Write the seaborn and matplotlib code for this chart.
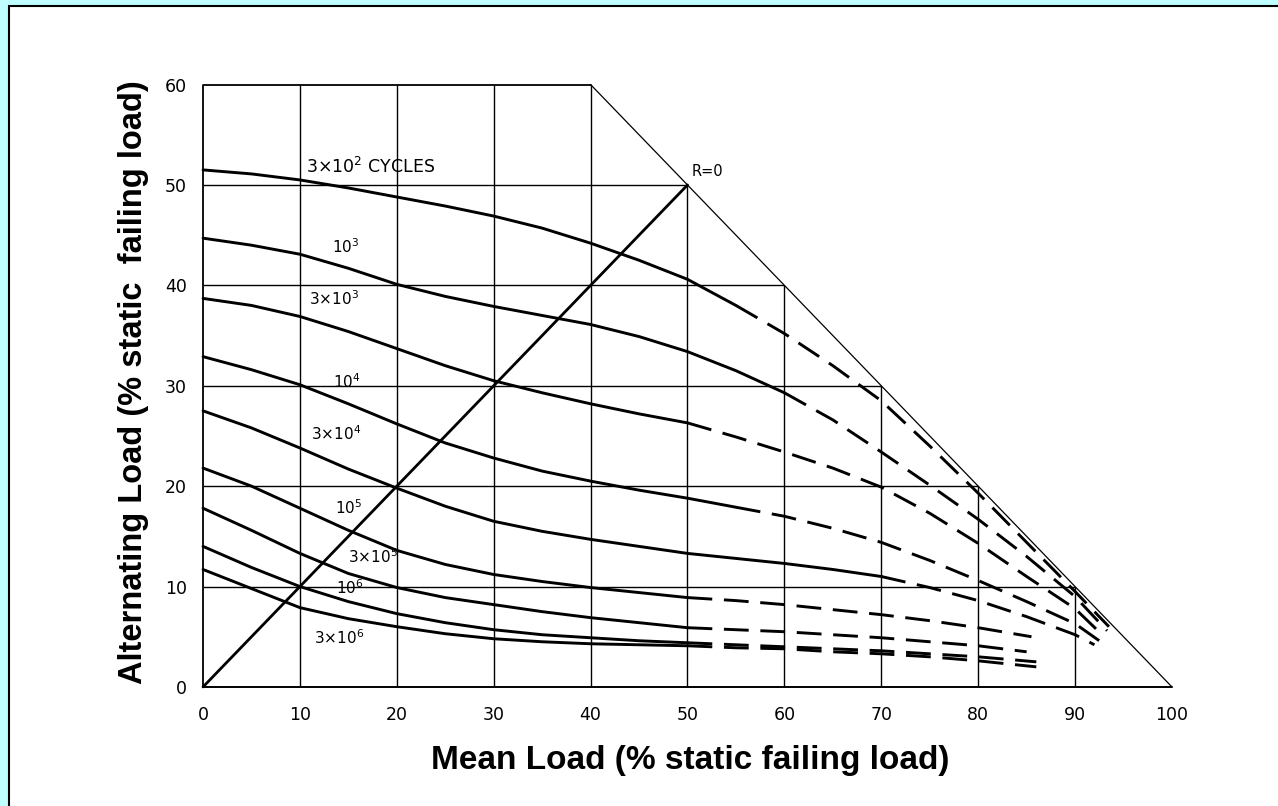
import matplotlib
matplotlib.use("Agg")
import matplotlib.pyplot as plt
import seaborn as sns
import pandas as pd
from matplotlib.patches import Rectangle

# ---------------- data ----------------
mean_ticks = [0, 10, 20, 30, 40, 50, 60, 70, 80, 90, 100]
alt_ticks = [0, 10, 20, 30, 40, 50, 60]

mean_upper = [0, 5, 10, 15, 20, 25, 30, 35, 40, 45, 50, 55, 60, 65, 70, 75, 80, 85, 90]
mean_lower = [0, 5, 10, 15, 20, 25, 30, 35, 40, 45, 50, 55, 60, 65, 70, 75, 80]

mean_3e2 = mean_upper + [93.5]
alt_3e2 = [51.5, 51.1, 50.5, 49.7, 48.8, 47.9, 46.9, 45.7, 44.2, 42.5, 40.6, 38.0, 35.2, 32.0, 28.5, 24.0, 19.3, 14.4, 9.5, 6.0]
mean_1e3 = mean_upper + [93.3]
alt_1e3 = [44.7, 44.0, 43.1, 41.7, 40.1, 38.9, 37.9, 37.0, 36.1, 34.9, 33.4, 31.5, 29.3, 26.6, 23.4, 20.1, 16.7, 13.0, 9.0, 5.6]
mean_3e3 = mean_upper + [93.0]
alt_3e3 = [38.7, 38.0, 36.9, 35.4, 33.7, 32.0, 30.5, 29.3, 28.2, 27.2, 26.3, 24.9, 23.4, 21.8, 19.9, 17.3, 14.3, 11.0, 7.8, 5.0]
mean_1e4 = mean_upper + [92.5]
alt_1e4 = [32.9, 31.6, 30.1, 28.2, 26.2, 24.3, 22.8, 21.5, 20.5, 19.6, 18.8, 17.9, 17.0, 15.8, 14.4, 12.6, 10.6, 8.5, 6.3, 4.6]
mean_3e4 = mean_upper + [92.0]
alt_3e4 = [27.5, 25.8, 23.8, 21.7, 19.8, 18.0, 16.5, 15.5, 14.7, 14.0, 13.3, 12.8, 12.3, 11.7, 11.0, 9.9, 8.6, 7.0, 5.2, 4.2]
mean_1e5 = mean_lower + [85.5]
alt_1e5 = [21.8, 20.0, 17.8, 15.6, 13.6, 12.2, 11.2, 10.5, 9.9, 9.4, 8.9, 8.6, 8.2, 7.7, 7.2, 6.6, 5.9, 5.0]
mean_3e5 = mean_lower + [85.0]
alt_3e5 = [17.8, 15.6, 13.3, 11.3, 9.9, 8.9, 8.2, 7.5, 6.9, 6.4, 5.9, 5.7, 5.5, 5.2, 4.9, 4.5, 4.1, 3.5]
mean_1e6 = mean_lower + [86.0]
alt_1e6 = [14.0, 11.9, 10.0, 8.5, 7.3, 6.4, 5.7, 5.2, 4.9, 4.6, 4.4, 4.2, 4.0, 3.8, 3.6, 3.3, 3.0, 2.5]
mean_3e6 = mean_lower + [86.0]
alt_3e6 = [11.7, 9.8, 7.9, 6.8, 6.0, 5.3, 4.8, 4.5, 4.3, 4.2, 4.1, 3.9, 3.8, 3.5, 3.3, 3.0, 2.6, 2.0]

# mean load where each curve changes from solid (test data) to dashed (extrapolated)
dash_from = [55, 60, 50, 55, 70, 50, 50, 50, 50]

curve_labels = ["3\u00d710$^2$ CYCLES", "10$^3$", "3\u00d710$^3$", "10$^4$", "3\u00d710$^4$",
                "10$^5$", "3\u00d710$^5$", "10$^6$", "3\u00d710$^6$"]
label_mean = [10.6, 14.7, 13.5, 14.8, 13.7, 15.0, 17.5, 15.2, 14.0]
label_alt = [51.8, 43.9, 38.7, 30.4, 25.2, 17.9, 13.0, 9.9, 4.9]

r0_mean = [0, 50]
r0_alt = [0, 50]

# envelope of the diagram
env_mean = [0, 0, 40, 100, 0]
env_alt = [0, 60, 60, 0, 0]

# ---------------- figure ----------------
sns.set_style("white")
plt.rcParams["font.family"] = ["Liberation Sans Narrow", "DejaVu Sans"]
plt.rcParams["text.color"] = "black"

W, H = 1278, 806
fig = plt.figure(figsize=(W / 100, H / 100), dpi=100)
fig.patch.set_facecolor("#C0FFFF")
fig.add_artist(Rectangle((8.5 / W, -0.02), 1.05, (H - 5.5) / H + 0.02,
                         transform=fig.transFigure, facecolor="white",
                         edgecolor="black", linewidth=1.5, zorder=0))

ax = fig.add_axes([188.5 / W, 1 - 702 / H, 998 / W, 632.5 / H])
ax.set_facecolor("none")
ax.set_xlim(-1.5, 101.5)
ax.set_ylim(-1.5, 61.5)
for s in ax.spines.values():
    s.set_visible(False)

# envelope
ax.plot(env_mean[:3], env_alt[:3], color="black", lw=1.3, zorder=2)
ax.plot(env_mean[2:4], env_alt[2:4], color="black", lw=0.9, zorder=2)
ax.plot([env_mean[0], env_mean[3]], [env_alt[0], env_alt[3]], color="black", lw=1.4, zorder=2)

# grid clipped to the envelope
for v in alt_ticks[1:-1]:
    ax.hlines(v, 0, 100 - v, color="black", lw=1.0, zorder=1)
for m in mean_ticks[1:-1]:
    ax.vlines(m, 0, min(60, 100 - m), color="black", lw=1.0, zorder=1)

# R = 0 line
sns.lineplot(x=r0_mean, y=r0_alt, ax=ax, color="black", linewidth=2.0,
             estimator=None, sort=False, zorder=3)

curves = [(mean_3e2, alt_3e2), (mean_1e3, alt_1e3), (mean_3e3, alt_3e3),
          (mean_1e4, alt_1e4), (mean_3e4, alt_3e4), (mean_1e5, alt_1e5),
          (mean_3e5, alt_3e5), (mean_1e6, alt_1e6), (mean_3e6, alt_3e6)]

for (mx, ay), d in zip(curves, dash_from):
    df = pd.DataFrame({"mean": mx, "alt": ay})
    solid = df[df["mean"] <= d]
    dashed = df[df["mean"] >= d]
    sns.lineplot(data=solid, x="mean", y="alt", ax=ax, color="black",
                 linewidth=2.1, estimator=None, sort=False, zorder=3)
    sns.lineplot(data=dashed, x="mean", y="alt", ax=ax, color="black",
                 linewidth=2.1, estimator=None, sort=False, zorder=3,
                 linestyle=(0, (8.5, 4)))

for t, xm, ya in zip(curve_labels, label_mean, label_alt):
    if "CYCLES" in t:
        ax.text(xm, ya, t, ha="left", va="center", fontsize=12.5, color="black", zorder=4)
    else:
        ax.text(xm, ya, t, ha="center", va="center", fontsize=11, color="black", zorder=4)
ax.text(52.1, 51.3, "R=0", ha="center", va="center", fontsize=10.5, color="black", zorder=4)

ax.set_xticks(mean_ticks)
ax.set_xticklabels([str(v) for v in mean_ticks])
ax.set_yticks(alt_ticks)
ax.set_yticklabels([str(v) for v in alt_ticks])
ax.tick_params(axis="both", length=0, labelsize=12.5, colors="black")
ax.tick_params(axis="x", pad=3)
ax.tick_params(axis="y", pad=1)
ax.set_xlabel("")
ax.set_ylabel("")
ax.grid(False)

fig.text(690 / W, 1 - 769 / H, "Mean Load (% static failing load)",
         family=["Liberation Sans", "DejaVu Sans"], fontweight="bold",
         fontsize=24, ha="center", va="baseline", color="black")
fig.text(142 / W, 1 - 382 / H, "Alternating Load (% static  failing load)",
         family=["Liberation Sans", "DejaVu Sans"], fontweight="bold",
         fontsize=23.5, ha="center", va="baseline", rotation=90,
         rotation_mode="anchor", color="black")

fig.savefig("out.png", dpi=100, facecolor=fig.get_facecolor())
